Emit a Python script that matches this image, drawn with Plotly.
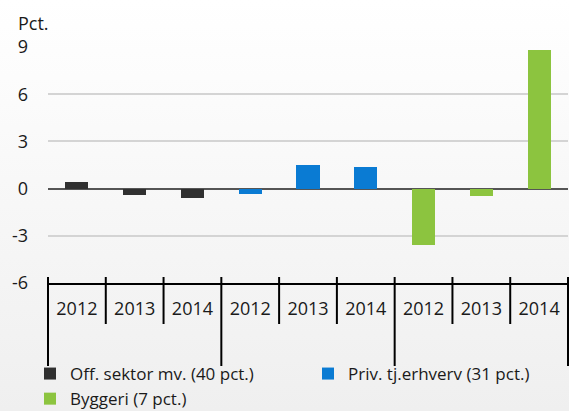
import base64
import plotly.graph_objects as go

# ---- data ----
years = ["2012", "2013", "2014"]
series_names = ["Off. sektor mv. (40 pct.)", "Priv. tj.erhverv (31 pct.)", "Byggeri (7 pct.)"]
off_sektor = [0.4, -0.4, -0.6]
priv_tj = [-0.35, 1.5, 1.4]
byggeri = [-3.6, -0.5, 8.8]
series_values = [off_sektor, priv_tj, byggeri]
colors = ["#303030", "#0a7bd3", "#8cc43f"]
y_ticks = [-6, -3, 0, 3, 6, 9]

FONT = "Open Sans"
FS = 18
LFS = 17
TXT = "#1a1a1a"

n_groups = len(series_values)
n_years = len(years)
n_cat = n_groups * n_years
legend_widths = [233, 200, 200]

fig = go.Figure()
for g, (name, vals, col) in enumerate(zip(series_names, series_values, colors)):
    xs = [g * n_years + i for i in range(n_years)]
    fig.add_trace(go.Bar(
        x=xs, y=vals, name=name, width=0.4,
        marker=dict(color=col, line=dict(width=0)),
        legendwidth=legend_widths[g],
    ))

# gradient background as an SVG image
svg = ('<svg xmlns="http://www.w3.org/2000/svg" width="10" height="100" preserveAspectRatio="none">'
       '<defs><linearGradient id="g" x1="0" y1="0" x2="0" y2="1">'
       '<stop offset="0" stop-color="#ffffff"/><stop offset="1" stop-color="#efefef"/>'
       '</linearGradient></defs><rect width="10" height="100" fill="url(#g)"/></svg>')
src = "data:image/svg+xml;base64," + base64.b64encode(svg.encode()).decode()

W, H = 569, 411
ml, mr, mt, mb = 48, 1, 47, 128
pw, ph = W - ml - mr, H - mt - mb

def px_to_paper_y(py):
    return (H - mb - py) / ph

def px_to_paper_x(px):
    return (px - ml) / pw

fig.add_layout_image(dict(
    source=src, xref="paper", yref="paper",
    x=px_to_paper_x(0), y=px_to_paper_y(0),
    sizex=W / pw, sizey=H / ph, sizing="stretch",
    xanchor="left", yanchor="top", layer="below",
))

# category boundary ticks and group dividers
shapes = []
for i in range(n_cat + 1):
    xp = i / n_cat
    long = (i % n_years == 0)
    shapes.append(dict(
        type="line", xref="paper", yref="paper",
        x0=xp, x1=xp,
        y0=px_to_paper_y(277),
        y1=px_to_paper_y(366 if long else 324),
        line=dict(color="#000000", width=2),
    ))
fig.update_layout(shapes=shapes)

fig.add_annotation(
    text="Pct.", xref="paper", yref="paper",
    x=px_to_paper_x(16), y=px_to_paper_y(23),
    xanchor="left", yanchor="middle", showarrow=False,
    font=dict(family=FONT, size=FS, color=TXT),
)

fig.update_layout(
    width=W, height=H,
    margin=dict(l=ml, r=mr, t=mt, b=mb, pad=0, autoexpand=False),
    paper_bgcolor="rgba(0,0,0,0)",
    plot_bgcolor="rgba(0,0,0,0)",
    font=dict(family=FONT, size=FS, color=TXT),
    bargap=0,
    showlegend=True,
    legend=dict(
        orientation="h", x=px_to_paper_x(30), y=px_to_paper_y(356),
        xanchor="left", yanchor="top",
        font=dict(family=FONT, size=LFS, color=TXT),
        bgcolor="rgba(0,0,0,0)", tracegroupgap=0, itemclick=False,
    ),
    xaxis=dict(
        range=[-0.5, n_cat - 0.5],
        tickvals=list(range(n_cat)),
        ticktext=years * n_groups,
        showgrid=False, zeroline=False,
        showline=True, linecolor="#000000", linewidth=2,
        ticks="", ticklabelstandoff=8,
        tickfont=dict(family=FONT, size=FS, color=TXT),
        fixedrange=True,
    ),
    yaxis=dict(
        range=[-6, 9],
        tickvals=y_ticks,
        ticktext=[str(v) for v in y_ticks],
        showgrid=True, gridcolor="#d4d4d4", gridwidth=1.5,
        zeroline=True, zerolinecolor="#555555", zerolinewidth=1.5,
        showline=False, ticks="", ticklabelstandoff=19,
        tickfont=dict(family=FONT, size=FS, color=TXT),
        fixedrange=True,
    ),
)

fig.write_html(
    "out.html",
    config={"displayModeBar": False},
    post_script="document.body.style.margin='0';document.body.style.overflow='hidden';",
)
